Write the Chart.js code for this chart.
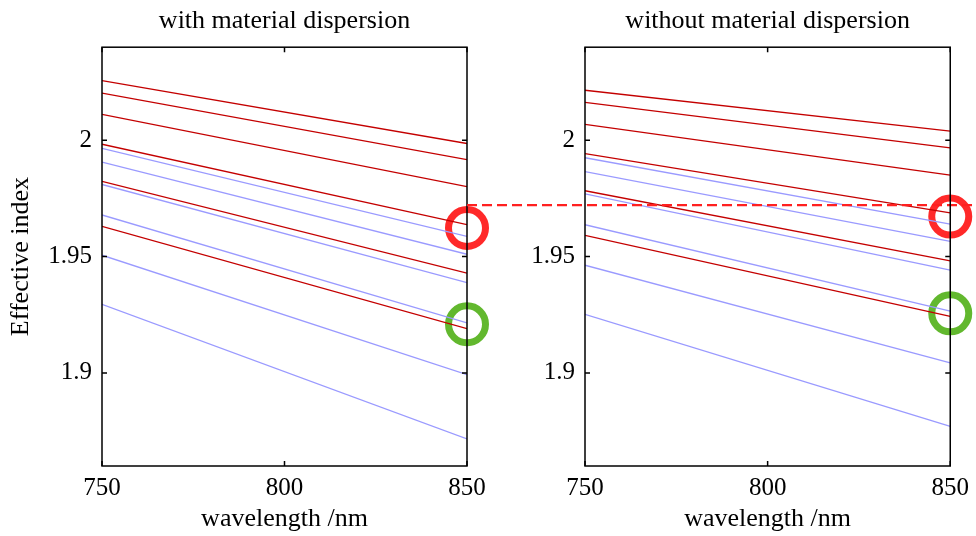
<!DOCTYPE html>
<html>
<head>
<meta charset="utf-8">
<script src="https://cdn.jsdelivr.net/npm/chart.js@4"></script>
<style>
  html, body { margin: 0; padding: 0; background: #fff; }
  #wrap { position: relative; width: 976px; height: 536px; overflow: hidden; }
  canvas { position: absolute; top: 0; }
  #left { left: 0; }
  #right { left: 467px; }
</style>
</head>
<body>
<div id="wrap">
  <canvas id="left" width="500" height="536"></canvas>
  <canvas id="right" width="509" height="536"></canvas>
</div>
<script>
const wavelength = [750, 850];
const xTicks = [750, 800, 850];
const yTicks = [1.9, 1.95, 2];

// effective index at 750 nm and 850 nm for each mode
const withRed = [[2.0256, 1.9986], [2.0203, 1.9917], [2.0111, 1.9801], [1.9983, 1.9637], [1.9823, 1.9429], [1.9630, 1.9190]];
const withBlue = [[1.9965, 1.9587], [1.9906, 1.9510], [1.9810, 1.9388], [1.9679, 1.9215], [1.9506, 1.8993], [1.9295, 1.8716]];
const withoutRed = [[2.0215, 2.0039], [2.0163, 1.9967], [2.0068, 1.9850], [1.9943, 1.9688], [1.9783, 1.9482], [1.9591, 1.9243]];
const withoutBlue = [[1.9925, 1.9640], [1.9865, 1.9565], [1.9770, 1.9442], [1.9637, 1.9266], [1.9463, 1.9043], [1.9252, 1.8770]];

// circled modes at 850 nm: [red, green]
const withCircles = [1.9623, 1.9209];
const withoutCircles = [1.9672, 1.9256];
const dashLevel = 1.9721;

const SERIF = "'Liberation Serif', 'Times New Roman', serif";
const RED = '#c40000', BLUE = '#9a9aff';
const circleColors = ['rgba(255,30,30,0.95)', 'rgba(90,180,35,0.95)'];

function lineSets(pairs, color) {
  return pairs.map(p => ({
    data: wavelength.map((w, i) => ({ x: w, y: p[i] })),
    borderColor: color, borderWidth: 1.3, pointRadius: 0, fill: false, tension: 0
  }));
}

function circleSets(vals) {
  return vals.map((v, i) => ({
    data: [{ x: 850, y: v }],
    showLine: false, clip: false,
    pointRadius: 18.5, pointBorderWidth: 7,
    pointBorderColor: circleColors[i], pointBackgroundColor: 'transparent'
  }));
}

const frame = {
  id: 'frame',
  afterDraw(chart) {
    const { ctx, chartArea: { left, right, top, bottom }, scales: { x, y } } = chart;
    ctx.save();
    ctx.strokeStyle = '#000';
    ctx.lineWidth = 1.5;
    ctx.strokeRect(left, top, right - left, bottom - top);
    ctx.beginPath();
    x.ticks.forEach(t => {
      const px = x.getPixelForValue(t.value);
      ctx.moveTo(px, bottom); ctx.lineTo(px, bottom - 5);
      ctx.moveTo(px, top); ctx.lineTo(px, top + 5);
    });
    y.ticks.forEach(t => {
      const py = y.getPixelForValue(t.value);
      ctx.moveTo(left, py); ctx.lineTo(left + 5, py);
      ctx.moveTo(right, py); ctx.lineTo(right - 5, py);
    });
    ctx.stroke();
    ctx.restore();
  }
};

const dashLine = {
  id: 'dashLine',
  afterDatasetsDraw(chart) {
    const { ctx, scales: { y } } = chart;
    const py = y.getPixelForValue(dashLevel);
    ctx.save();
    ctx.strokeStyle = '#ff2020';
    ctx.lineWidth = 2.3;
    ctx.setLineDash([10, 5]);
    ctx.beginPath();
    ctx.moveTo(0, py); ctx.lineTo(chart.width, py);
    ctx.stroke();
    ctx.restore();
  }
};

function makeChart(id, title, red, blue, circles, yWidth, padRight, showYTitle, extra) {
  return new Chart(document.getElementById(id), {
    type: 'line',
    data: { datasets: [...lineSets(blue, BLUE), ...lineSets(red, RED), ...circleSets(circles)] },
    options: {
      responsive: false, animation: false, events: [],
      layout: { padding: { left: 0, right: padRight, top: 0, bottom: 0 } },
      plugins: {
        legend: { display: false }, tooltip: { enabled: false },
        title: { display: true, fullSize: false, text: title, color: '#000', font: { family: SERIF, size: 26, weight: 'normal' }, padding: { top: 6, bottom: 10 } }
      },
      scales: {
        x: {
          type: 'linear', min: 750, max: 850,
          afterBuildTicks: s => { s.ticks = xTicks.map(v => ({ value: v })); },
          afterFit: s => { s.height = 70; },
          grid: { display: false, drawTicks: false }, border: { display: false },
          ticks: { color: '#000', font: { family: SERIF, size: 25 }, padding: 7, maxRotation: 0, autoSkip: false },
          title: { display: true, text: 'wavelength /nm', color: '#000', font: { family: SERIF, size: 26 }, padding: { top: 0, bottom: 1 } }
        },
        y: {
          type: 'linear', min: 1.86, max: 2.04,
          afterBuildTicks: s => { s.ticks = yTicks.map(v => ({ value: v })); },
          afterFit: s => { s.width = yWidth; },
          grid: { display: false, drawTicks: false }, border: { display: false },
          ticks: { color: '#000', font: { family: SERIF, size: 25 }, padding: 10, callback: v => String(v) },
          title: { display: showYTitle, text: 'Effective index', color: '#000', font: { family: SERIF, size: 26 }, padding: { top: 6, bottom: 0 } }
        }
      }
    },
    plugins: extra ? [extra, frame] : [frame]
  });
}

makeChart('left', 'with material dispersion', withRed, withBlue, withCircles, 102, 33, true, null);
makeChart('right', 'without material dispersion', withoutRed, withoutBlue, withoutCircles, 118, 25, false, dashLine);
</script>
</body>
</html>
